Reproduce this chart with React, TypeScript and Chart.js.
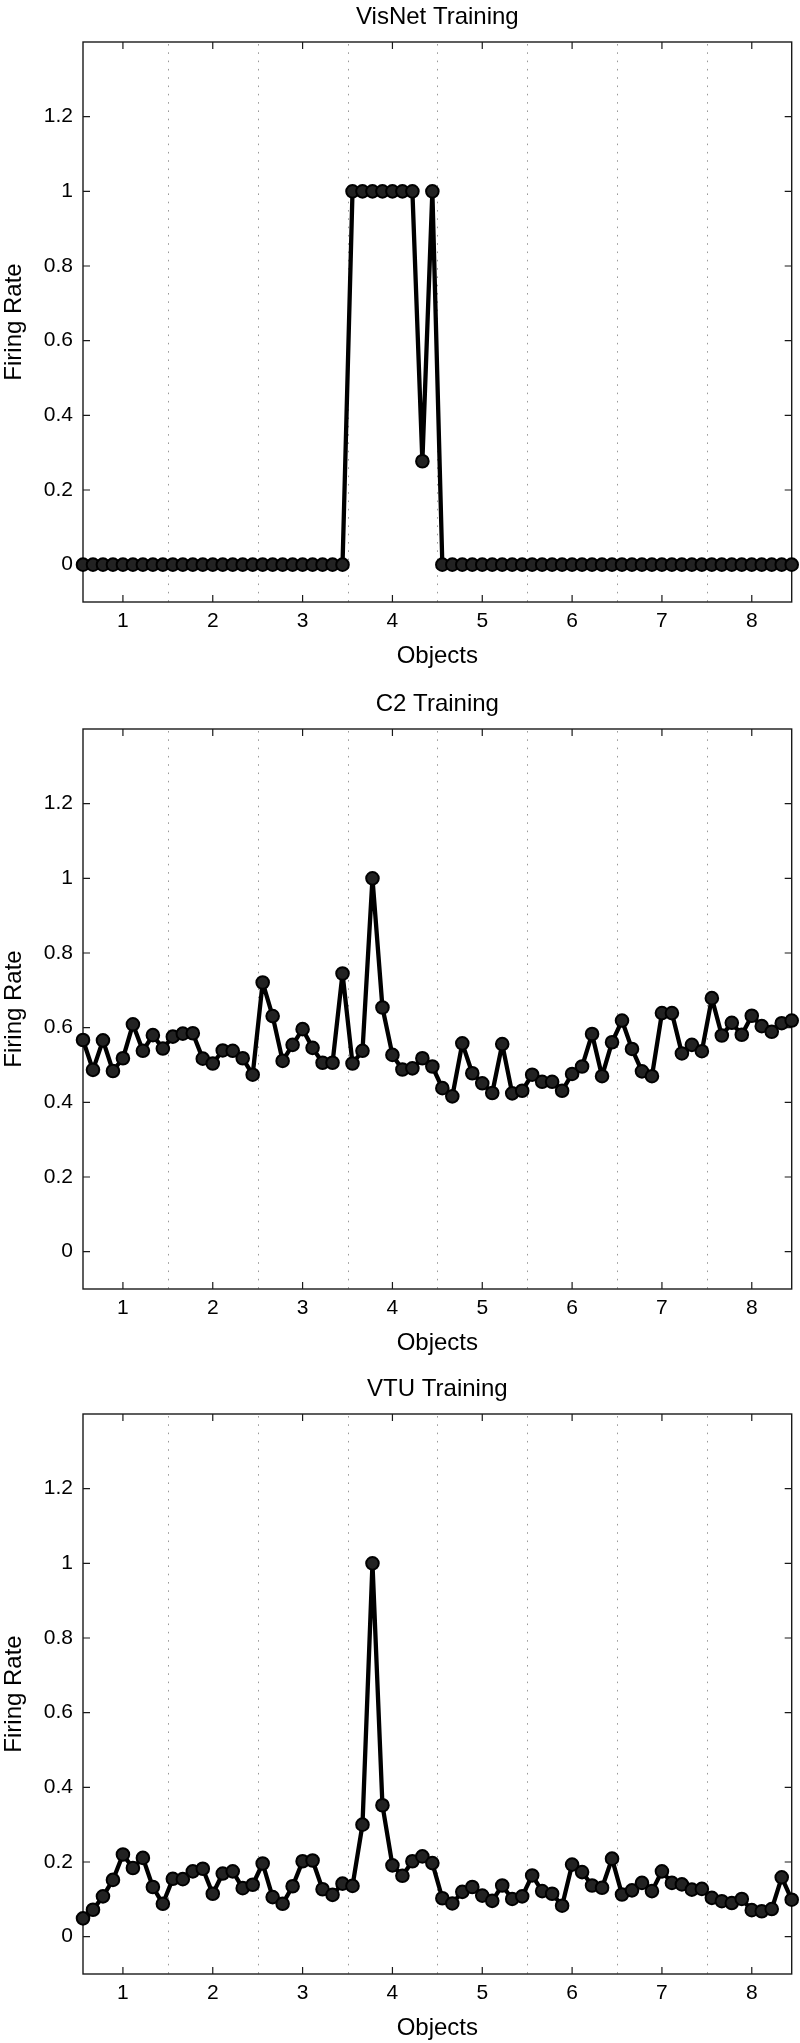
import React, { useEffect, useRef } from "react";
import { Chart, registerables } from "chart.js";

Chart.register(...registerables);

const FONT = "'Liberation Sans', Arial, Helvetica, sans-serif";

// Objects (x tick labels) and separators between objects
const objectTicks = [1, 2, 3, 4, 5, 6, 7, 8];
const separators = [1.5, 2.5, 3.5, 4.5, 5.5, 6.5, 7.5];
const yTicks = [0, 0.2, 0.4, 0.6, 0.8, 1, 1.2];
const samplesPerObject = 9;

const panelTitles = ["VisNet Training", "C2 Training", "VTU Training"];

const visnetValues = [
  0, 0, 0, 0, 0, 0, 0, 0, 0,
  0, 0, 0, 0, 0, 0, 0, 0, 0,
  0, 0, 0, 0, 0, 0, 0, 0, 0,
  1, 1, 1, 1, 1, 1, 1, 0.277, 1,
  0, 0, 0, 0, 0, 0, 0, 0, 0,
  0, 0, 0, 0, 0, 0, 0, 0, 0,
  0, 0, 0, 0, 0, 0, 0, 0, 0,
  0, 0, 0, 0, 0, 0, 0, 0, 0,
];

const c2Values = [
  0.567, 0.487, 0.566, 0.484, 0.518, 0.609, 0.538, 0.58, 0.544,
  0.576, 0.584, 0.585, 0.517, 0.504, 0.539, 0.538, 0.518, 0.474,
  0.721, 0.631, 0.511, 0.554, 0.596, 0.546, 0.506, 0.506, 0.745,
  0.504, 0.538, 1.0, 0.654, 0.527, 0.488, 0.491, 0.518, 0.496,
  0.438, 0.416, 0.558, 0.478, 0.451, 0.425, 0.556, 0.424, 0.431,
  0.474, 0.455, 0.455, 0.431, 0.476, 0.496, 0.583, 0.47, 0.561,
  0.619, 0.543, 0.483, 0.47, 0.639, 0.639, 0.531, 0.554, 0.537,
  0.679, 0.579, 0.613, 0.581, 0.632, 0.604, 0.589, 0.612, 0.619,
];

const vtuValues = [
  0.049, 0.072, 0.108, 0.152, 0.22, 0.184, 0.211, 0.133, 0.088,
  0.155, 0.154, 0.175, 0.182, 0.115, 0.169, 0.175, 0.13, 0.139,
  0.196, 0.106, 0.088, 0.135, 0.202, 0.204, 0.127, 0.112, 0.142,
  0.136, 0.3, 1.0, 0.352, 0.191, 0.163, 0.202, 0.215, 0.197,
  0.103, 0.089, 0.12, 0.133, 0.11, 0.096, 0.137, 0.101, 0.108,
  0.164, 0.122, 0.115, 0.083, 0.193, 0.173, 0.137, 0.131, 0.209,
  0.113, 0.124, 0.144, 0.122, 0.175, 0.144, 0.14, 0.126, 0.128,
  0.104, 0.095, 0.09, 0.101, 0.071, 0.068, 0.074, 0.159, 0.099,
];

const panelValues = [visnetValues, c2Values, vtuValues];
const panelTops = [0, 687, 1372];
const panelHeights = [686, 686, 671];

const AREA_TOP = 42;
const AREA_BOTTOM = 602;
const AREA_LEFT = 83;
const AREA_RIGHT_PAD = 8;

const framePlugin = {
  id: "matlabFrame",
  beforeDatasetsDraw(chart: any) {
    const { ctx, chartArea, scales } = chart;
    const { left, right, top, bottom } = chartArea;
    const x = scales.x;
    const y = scales.y;
    ctx.save();
    // dotted separators
    ctx.strokeStyle = "#9a9a9a";
    ctx.lineWidth = 1;
    ctx.setLineDash([1.6, 6.7]);
    separators.forEach((v) => {
      const px = Math.round(x.getPixelForValue(v)) + 0.5;
      ctx.beginPath();
      ctx.moveTo(px, top + 2);
      ctx.lineTo(px, bottom);
      ctx.stroke();
    });
    ctx.setLineDash([]);
    // box
    ctx.strokeStyle = "#1a1a1a";
    ctx.lineWidth = 1.4;
    ctx.strokeRect(left, top, right - left, bottom - top);
    // inward ticks
    ctx.lineWidth = 1.2;
    const tl = 7;
    objectTicks.forEach((v) => {
      const px = x.getPixelForValue(v);
      ctx.beginPath();
      ctx.moveTo(px, bottom);
      ctx.lineTo(px, bottom - tl);
      ctx.moveTo(px, top);
      ctx.lineTo(px, top + tl);
      ctx.stroke();
    });
    yTicks.forEach((v) => {
      const py = y.getPixelForValue(v);
      ctx.beginPath();
      ctx.moveTo(left, py);
      ctx.lineTo(left + tl, py);
      ctx.moveTo(right, py);
      ctx.lineTo(right - tl, py);
      ctx.stroke();
    });
    ctx.restore();
  },
};

function formatY(v: number) {
  if (v === 0) return "0";
  if (v === 1) return "1";
  return v.toFixed(1);
}

function makeConfig(title: string, values: number[], height: number): any {
  const points = values.map((v, i) => ({ x: (i + 5) / samplesPerObject, y: v }));
  const xAxisHeight = height - AREA_BOTTOM;
  const xTitleBottomPad = height - 656 - 14.4;
  return {
    type: "line",
    data: {
      datasets: [
        {
          data: points,
          borderColor: "#000",
          borderWidth: 4.3,
          borderJoinStyle: "round",
          borderCapStyle: "round",
          tension: 0,
          fill: false,
          pointRadius: 6.3,
          pointBackgroundColor: "#222",
          pointBorderColor: "#000",
          pointBorderWidth: 2,
          clip: false,
        },
      ],
    },
    options: {
      animation: false,
      responsive: false,
      maintainAspectRatio: false,
      events: [],
      layout: { padding: { top: 0, right: AREA_RIGHT_PAD, bottom: 0, left: 0 } },
      plugins: {
        legend: { display: false },
        tooltip: { enabled: false },
        title: {
          display: true,
          text: title,
          fullSize: false,
          color: "#000",
          font: { family: FONT, size: 24, weight: "normal", lineHeight: 1.2 },
          padding: { top: 2.6, bottom: AREA_TOP - 2.6 - 28.8 },
        },
      },
      scales: {
        x: {
          type: "linear",
          min: 5 / samplesPerObject,
          max: 8 + 4 / samplesPerObject,
          afterBuildTicks: (s: any) => {
            s.ticks = objectTicks.map((v) => ({ value: v }));
          },
          afterFit: (s: any) => {
            s.height = xAxisHeight;
          },
          grid: { display: false, drawTicks: false },
          border: { display: false },
          ticks: {
            color: "#000",
            font: { family: FONT, size: 21 },
            padding: 7,
            maxRotation: 0,
            autoSkip: false,
            callback: (v: any) => String(v),
          },
          title: {
            display: true,
            text: "Objects",
            color: "#000",
            font: { family: FONT, size: 24, lineHeight: 1.2 },
            padding: { top: 0, bottom: xTitleBottomPad },
          },
        },
        y: {
          type: "linear",
          min: -0.1,
          max: 1.4,
          afterBuildTicks: (s: any) => {
            s.ticks = yTicks.map((v) => ({ value: v }));
          },
          afterFit: (s: any) => {
            s.width = AREA_LEFT;
          },
          grid: { display: false, drawTicks: false },
          border: { display: false },
          ticks: {
            color: "#000",
            font: { family: FONT, size: 21 },
            padding: 10,
            autoSkip: false,
            callback: (v: any) => formatY(Number(v)),
          },
          title: {
            display: true,
            text: "Firing Rate",
            color: "#000",
            font: { family: FONT, size: 24, lineHeight: 1.2 },
            padding: { top: 0, bottom: 0 },
          },
        },
      },
    },
    plugins: [framePlugin],
  };
}

function Panel(props: { title: string; values: number[]; top: number; height: number }) {
  const ref = useRef<HTMLCanvasElement | null>(null);
  useEffect(() => {
    if (!ref.current) return;
    const chart = new Chart(ref.current, makeConfig(props.title, props.values, props.height));
    return () => chart.destroy();
  }, []);
  return (
    <div style={{ position: "absolute", left: 0, top: props.top, width: 800, height: props.height }}>
      <canvas
        ref={ref}
        width={800}
        height={props.height}
        style={{ display: "block", width: 800, height: props.height }}
      />
    </div>
  );
}

export default function App() {
  return (
    <div
      style={{
        position: "absolute",
        left: 0,
        top: 0,
        width: 800,
        height: 2043,
        overflow: "hidden",
        background: "#fff",
      }}
    >
      {panelTitles.map((t, k) => (
        <Panel key={k} title={t} values={panelValues[k]} top={panelTops[k]} height={panelHeights[k]} />
      ))}
    </div>
  );
}
